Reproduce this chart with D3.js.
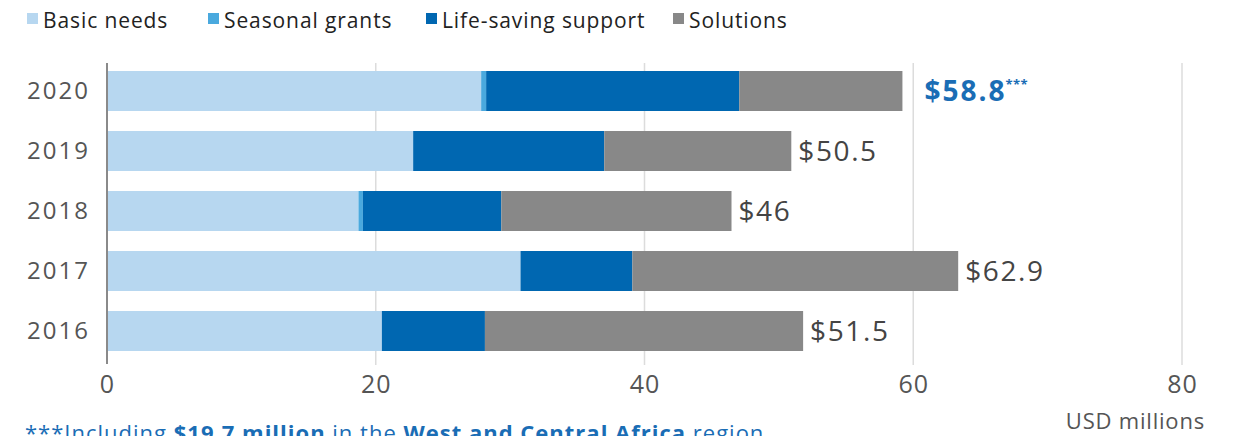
<!DOCTYPE html>
<html><head><meta charset="utf-8">
<script src="https://cdn.jsdelivr.net/npm/d3@7"></script>
<style>
html,body{margin:0;padding:0;background:#fff;}
svg{display:block;font-family:"Open Sans",Lato,sans-serif;}
</style></head>
<body>
<svg id="chart" width="1240" height="436"></svg>
<script>
const years = ["2020","2019","2018","2017","2016"];
const seriesNames = ["Basic needs","Seasonal grants","Life-saving support","Solutions"];
const basicNeeds   = [27.77, 22.71, 18.64, 30.70, 20.38];
const seasonal     = [0.37, 0, 0.33, 0, 0];
const lifeSaving   = [18.84, 14.22, 10.30, 8.32, 7.67];
const solutions    = [12.14, 13.92, 17.13, 24.25, 23.68];
const totalLabels  = ["$58.8","$50.5","$46","$62.9","$51.5"];
const xTicks = [0,20,40,60,80];
const axisTitle = "USD millions";
const colors = ["#b7d7f0","#4aa9de","#0067b1","#888888"];
const FONT = "'Open Sans',Lato,sans-serif";

const svg = d3.select("#chart");
const x = d3.scaleLinear().domain([0,80]).range([107,1182]);
const y = d3.scaleBand().domain(years).range([61,361]).paddingInner(1/3).paddingOuter(1/6);

// gridlines
svg.append("g").selectAll("line").data(xTicks.filter(d=>d>0)).join("line")
  .attr("x1",d=>x(d)).attr("x2",d=>x(d)).attr("y1",63).attr("y2",365)
  .attr("stroke","#dcdcdc").attr("stroke-width",1.5);

// stacked data
const rows = years.map((yr,i)=>({year:yr,"Basic needs":basicNeeds[i],"Seasonal grants":seasonal[i],"Life-saving support":lifeSaving[i],"Solutions":solutions[i]}));
const stack = d3.stack().keys(seriesNames)(rows);
const color = d3.scaleOrdinal().domain(seriesNames).range(colors);

svg.append("g").selectAll("g").data(stack).join("g")
  .attr("fill",d=>color(d.key))
  .selectAll("rect").data(d=>d).join("rect")
  .attr("x",d=>x(d[0])+1).attr("width",d=>Math.max(0,x(d[1])-x(d[0])))
  .attr("y",d=>y(d.data.year)).attr("height",y.bandwidth());

// axis line at 0
svg.append("line").attr("x1",x(0)).attr("x2",x(0)).attr("y1",63).attr("y2",364)
  .attr("stroke","#8a8a8a").attr("stroke-width",2);

// x tick labels
const xAxis = d3.axisBottom(x).tickValues(xTicks).tickSize(0).tickPadding(0);
const gx = svg.append("g").attr("transform","translate(0,393)").call(xAxis);
gx.select(".domain").remove();
gx.selectAll("text").attr("font-size",25).attr("fill","#555").attr("dy",0)
  .attr("letter-spacing",1).attr("font-family",FONT);

// y labels
const yAxis = d3.axisLeft(y).tickSize(0).tickPadding(0);
const gy = svg.append("g").attr("transform","translate(90,0)").call(yAxis);
gy.select(".domain").remove();
gy.selectAll("text").attr("font-size",24).attr("fill","#555").attr("dy","0.35em")
  .attr("letter-spacing",2).attr("font-family",FONT);

// total labels
const totals = years.map((yr,i)=>basicNeeds[i]+seasonal[i]+lifeSaving[i]+solutions[i]);
years.forEach((yr,i)=>{
  const highlight = i===0;
  const t = svg.append("text")
    .attr("x",x(totals[i])+(highlight?23:8))
    .attr("y",y(yr)+y.bandwidth()/2)
    .attr("dy","0.36em")
    .attr("font-size",28)
    .attr("letter-spacing",highlight?2:1.6)
    .attr("font-weight",highlight?700:400)
    .attr("fill",highlight?"#1a6db5":"#444");
  t.append("tspan").text(totalLabels[i]);
  if(highlight){
    t.append("tspan").text("***").attr("font-size",13).attr("letter-spacing",0.5).attr("dy","-0.9em").attr("dx",-1);
  }
});

// axis title
svg.append("text").attr("x",1205).attr("y",429).attr("text-anchor","end")
  .attr("font-size",22).attr("letter-spacing",0.8).attr("fill","#555").text(axisTitle);

// legend
const leg = svg.append("g");
const legX = [27,208,426,673];
seriesNames.forEach((name,i)=>{
  leg.append("rect").attr("x",legX[i]).attr("y",13).attr("width",11).attr("height",11).attr("fill",colors[i]);
  leg.append("text").attr("x",legX[i]+16).attr("y",20).attr("dy","0.36em")
    .attr("font-size",21).attr("letter-spacing",0.9).attr("fill","#222").text(name);
});

// footnote
const fn = svg.append("text").attr("x",25).attr("y",441).attr("font-size",22)
  .attr("letter-spacing",1).attr("fill","#1a6db5");
fn.append("tspan").text("***Including ");
fn.append("tspan").attr("font-weight",700).text("$19.7 million");
fn.append("tspan").text(" in the ");
fn.append("tspan").attr("font-weight",700).text("West and Central Africa");
fn.append("tspan").text(" region");
</script>
</body></html>
